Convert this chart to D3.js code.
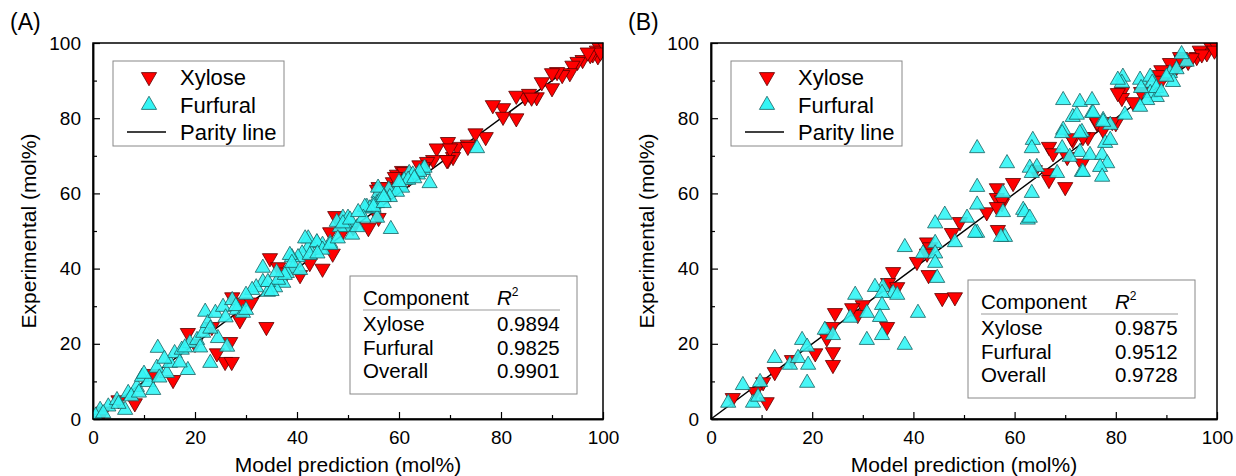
<!DOCTYPE html>
<html>
<head>
<meta charset="utf-8">
<script src="https://cdn.jsdelivr.net/npm/d3@7"></script>
<style>
  body { margin: 0; background: #fff; }
  svg text { font-family: "Liberation Sans", Arial, sans-serif; fill: #000; }
</style>
</head>
<body>
<div id="chart"></div>
<script>

//Tick values and table contents
var majorTicks = [0, 20, 40, 60, 80, 100];
var minorTicks = [10, 30, 50, 70, 90];
var tableComponents = ["Xylose", "Furfural", "Overall"];
var r2A = ["0.9894", "0.9825", "0.9901"];
var r2B = ["0.9875", "0.9512", "0.9728"];

//Panel A - [model prediction, experimental]
var xyloseA = [
  [99,99.5],[98.8,98],[99,96.5],[98,97],[97.5,96.8],[96,95.5],[95,95],[94,94],[93.5,92],[92,91.5],
  [91,92.3],[90,92],[90,88],[88,89.6],[87,85.6],[84.7,85.6],[83,86],[80.4,82.7],[78.4,83.5],[80.4,80.4],
  [83,80],[77,75],[75,76],[73.5,73],[71.4,72.4],[70.6,69.7],[69.6,73.7],[69.6,68.9],[67.4,72],[66.7,68.9],
  [65.5,68.4],[64.7,67],[64,67.5],[60.6,66],[59.6,65],[58.8,63],[56,61.7],[55.7,61],[47.5,54],[56,53.5],
  [54,50.8],[46.5,49.7],[34.7,42.8],[36.3,40.4],[45,40],[47,44],[42.5,41.5],[40.6,38.3],[34,24.5],[27.3,32.4],
  [29.2,31],[26.9,20.5],[25.9,15.2],[27.2,15.2],[24.3,17.5],[15.7,10.4],[8.2,4.2],[18.6,22.9],[23.3,24.5],[28.8,26.3],
  [70,72],[73.5,72.4],[69.4,68.9],[61,65.7],[59.2,64.4],[57.3,61.7],[100,100],[99.5,97.5],[97,97.5],[85.5,86.5],
  [86,85.5],[62,64],[49,50],[51,51],[38,39],[31,31],[20,20],[12,12],[5,5],[2,2]
];
var furfuralA = [
  [75.3,72],[66,62.7],[64.7,66.2],[63.7,65],[62,65.4],[61,63.5],[60,62],[58,61],[56,60],[55.7,57.4],
  [55,56],[53.7,56.4],[49,53.5],[50,53.5],[65,66.8],[64,65.7],[62.7,65],[61.8,63.6],[60.6,61.5],[59.6,60.4],
  [58.2,59],[56.9,59.6],[55.9,61.5],[55,57],[54.3,56],[53.3,56.4],[55.7,53.5],[58.4,50.5],[50.4,52.4],[49.8,51],
  [48.4,51],[50.8,49],[46.5,46.8],[45,46.3],[43.9,46.8],[42.2,48],[42.2,45.5],[41,44],[40.2,43],[39,43],
  [39.2,40],[38,38.8],[37.3,36.2],[35.7,35],[34.3,33.8],[33.3,36.4],[32,35],[1.4,2.4],[3,3.3],[4.7,5],
  [6.3,2.4],[6.9,6.9],[8.6,8.5],[9.6,11.2],[10.8,9.8],[11.8,7.7],[12.5,13.6],[12.7,18.9],[14.5,12.2],[15.1,14.9],
  [16,17.5],[17.4,18.4],[18.6,13],[19,20.2],[20.4,21],[21.6,22.9],[22,28.5],[22.5,25.5],[23,14.9],[24,28.2],
  [24.5,21.5],[25.5,29.8],[26.3,19.2],[27.3,31.6],[28.2,29],[29.4,28.2],[31.2,34.3],[33.3,40.2],[34.3,36.4],[36.3,37],
  [37.6,38.3],[38.6,43.6],[39,41.5],[40.6,39.6],[41.6,48],[42.5,43.6],[43.9,47],[45,45],[46.5,46.3],[47.8,52.4],
  [49,52],[50.4,53],[51.8,51],[53,53.5],[55,56.4],[57,57.4],[0.5,0.8],[2,1.5],[5,4],[7.5,6],
  [9,7],[10,12],[13,11],[14,16],[17,15],[18,19],[21,19],[23,24],[26,27],[28,30],
  [30,29],[30,33],[35,34],[36,39],[44,44],[48,48],[52,55],[57,59],[60,63],[63,64]
];

//Panel B - [model prediction, experimental]
var xyloseB = [
  [98.6,99.5],[98,97.3],[96.6,98],[96,96.3],[94.3,95],[92.7,96.3],[92,93.6],[90.7,94.7],[89,92.8],[88.7,91.5],
  [81.2,87],[81.2,85.4],[83.4,84.3],[80,78.7],[76.3,78.7],[77.5,76.9],[74.5,75],[71.5,74.2],[66.8,72.4],[67.6,70.7],
  [70.4,69.7],[70,61.7],[73.3,68],[66.4,65.4],[66.8,63.6],[64,66.2],[56.5,61.4],[59.7,62.8],[57.5,57.4],[56.5,58.8],
  [54.5,55],[49.2,52.4],[56.7,50.3],[71.3,74.7],[73.5,75],[76.3,79],[79.3,79],[80.4,86.7],[57.5,58.2],[56.5,56.4],
  [47.6,49.5],[42.7,47],[43.3,45.7],[42.7,44],[40.7,41.8],[43,38.3],[36,39.1],[35,36.2],[36.8,35.1],[45.7,32.2],
  [48.2,32.4],[34.8,24.5],[30,30.3],[29,27.7],[27.9,29.5],[24.5,28.2],[23.9,24.5],[24.1,17.8],[24.1,14.4],[22.9,21.5],
  [20.6,17.5],[16,15.7],[12.6,12.5],[10.3,9.8],[8.7,7.2],[11,4.5],[4.3,5.6],[100,99],[99.5,98],[97,97],
  [95,96],[93,95.5],[85,87],[89,90]
];
var furfuralB = [
  [81.4,91],[81.2,89.4],[84.8,90.2],[86.8,91],[87.2,89.4],[90.7,92],[91.3,89.6],[86.8,86.7],[88.1,85.6],[86.2,84.8],
  [84.8,83],[81.8,80.9],[69.6,84.8],[72.9,84.3],[75.3,84.8],[71.5,80.3],[75.3,81.4],[77.5,79.5],[78.9,78.2],[69.6,76.9],
  [69.4,76],[73.3,76.3],[63.6,74.2],[63.4,72],[52.6,72],[58.5,68],[69.4,72],[72.9,71],[74.9,70.2],[77.3,70.2],
  [77.9,73.4],[78.3,68],[76.9,67],[77.3,64.4],[73.3,65.7],[68.4,65.4],[64.4,67],[63,66.8],[63.4,65.4],[52.6,61.7],
  [63.4,60.1],[61.7,55.6],[62.6,53],[57.7,60.1],[52.6,57],[50.6,53.5],[46.2,54.3],[44.3,52],[52.6,49.5],[44.3,46.8],
  [38.3,45.7],[41.9,44],[44.3,44],[44.3,41.5],[44.7,37.5],[34,35.1],[36,33.5],[48.2,47],[57.7,55],[58.1,48.4],
  [62,55],[63,53.5],[72.3,80.9],[75.5,81.4],[72.9,76],[70.9,69.7],[73.5,65.7],[77.5,79],[78.9,74.2],[80.4,90.2],
  [3.4,4.3],[6.3,9],[8.3,4.3],[9.3,5.9],[9.7,9.8],[12.6,16.2],[15.6,14.4],[17.2,16.2],[18,21],[19,19.2],
  [19.2,14.4],[19,9.6],[22.5,23.7],[24.1,22.3],[27.5,26.9],[28.5,33],[30.8,28.2],[30.8,21],[32.4,35.1],[33.8,33.5],
  [33.8,30.3],[33.4,27.1],[33.8,22.3],[36.8,33],[38.3,19.7],[40.9,28.2],[52.2,49.5],[57.3,48.4],[85,88],[88,88],
  [90,91],[92,93],[94,95],[93,97],[89,87]
];

var svg = d3.select("#chart").append("svg")
    .attr("width", 1236)
    .attr("height", 476);

//Draw both panels
scatterPanel({ label: "(A)", left: 93, right: 603, xyl: xyloseA, fur: furfuralA, r2: r2A, tableTop: 276 });
scatterPanel({ label: "(B)", left: 711, right: 1217, xyl: xyloseB, fur: furfuralB, r2: r2B, tableTop: 280 });

/**
  * Draws one parity plot panel
  * @param {Object} p - label, plot left/right edge, data and table values
**/
function scatterPanel(p) {

  var top = 43, bottom = 419;

  var x = d3.scaleLinear().domain([0, 100]).range([p.left, p.right]);
  var y = d3.scaleLinear().domain([0, 100]).range([bottom, top]);

  var g = svg.append("g");

  //Clip markers to the frame
  var clipId = "clip" + p.label.replace(/[()]/g, "");
  g.append("clipPath").attr("id", clipId)
    .append("rect")
      .attr("x", p.left).attr("y", top)
      .attr("width", p.right - p.left).attr("height", bottom - top);

  //Bottom axis, ticks pointing inward
  g.append("g")
      .attr("transform", "translate(0," + bottom + ")")
      .call(d3.axisBottom(x).tickValues(majorTicks).tickSizeInner(-7).tickSizeOuter(0).tickPadding(12))
      .call(styleAxis);
  g.append("g")
      .attr("transform", "translate(0," + bottom + ")")
      .call(d3.axisBottom(x).tickValues(minorTicks).tickSizeInner(-4).tickSizeOuter(0).tickFormat(""))
      .call(styleAxis);

  //Left axis, ticks pointing inward
  g.append("g")
      .attr("transform", "translate(" + p.left + ",0)")
      .call(d3.axisLeft(y).tickValues(majorTicks).tickSizeInner(-7).tickSizeOuter(0).tickPadding(12))
      .call(styleAxis);
  g.append("g")
      .attr("transform", "translate(" + p.left + ",0)")
      .call(d3.axisLeft(y).tickValues(minorTicks).tickSizeInner(-4).tickSizeOuter(0).tickFormat(""))
      .call(styleAxis);

  //Parity line
  g.append("line")
      .attr("x1", x(0)).attr("y1", y(0))
      .attr("x2", x(100)).attr("y2", y(100))
      .attr("stroke", "#000").attr("stroke-width", 1.5);

  var tri = d3.symbol().type(d3.symbolTriangle).size(100);

  var marks = g.append("g").attr("clip-path", "url(#" + clipId + ")");

  marks.selectAll("path.xyl")
    .data(p.xyl)
    .enter().append("path")
      .attr("class", "xyl")
      .attr("d", tri)
      .attr("transform", function(d) { return "translate(" + x(d[0]) + "," + y(d[1]) + ") rotate(180)"; })
      .attr("fill", "#ff0000")
      .attr("stroke", "#5a0000")
      .attr("stroke-width", 0.8);

  marks.selectAll("path.fur")
    .data(p.fur)
    .enter().append("path")
      .attr("class", "fur")
      .attr("d", tri)
      .attr("transform", function(d) { return "translate(" + x(d[0]) + "," + y(d[1]) + ")"; })
      .attr("fill", "#33f5f5")
      .attr("fill-opacity", 0.9)
      .attr("stroke", "#1b5f5f")
      .attr("stroke-width", 0.8);

  //Frame
  g.append("rect")
      .attr("x", p.left).attr("y", top)
      .attr("width", p.right - p.left).attr("height", bottom - top)
      .attr("fill", "none").attr("stroke", "#000").attr("stroke-width", 1.5);

  //Panel label and axis titles
  g.append("text")
      .attr("x", p.left - 83).attr("y", 30)
      .style("font-size", "23px")
      .text(p.label);

  g.append("text")
      .attr("x", (p.left + p.right) / 2).attr("y", 472)
      .attr("text-anchor", "middle")
      .style("font-size", "21px")
      .text("Model prediction (mol%)");

  g.append("text")
      .attr("transform", "translate(" + (p.left - 57) + "," + ((top + bottom) / 2) + ") rotate(-90)")
      .attr("text-anchor", "middle")
      .style("font-size", "21px")
      .text("Experimental (mol%)");

  //Legend
  var lg = g.append("g").attr("transform", "translate(" + (p.left + 20) + ",61)");
  lg.append("rect")
      .attr("width", 171).attr("height", 85)
      .attr("fill", "#fff").attr("stroke", "#888").attr("stroke-width", 1);
  lg.append("path").attr("d", tri)
      .attr("transform", "translate(36,16) rotate(180)")
      .attr("fill", "#ff0000").attr("stroke", "#5a0000").attr("stroke-width", 0.8);
  lg.append("path").attr("d", tri)
      .attr("transform", "translate(36,44)")
      .attr("fill", "#33f5f5").attr("stroke", "#1b5f5f").attr("stroke-width", 0.8);
  lg.append("line")
      .attr("x1", 14).attr("x2", 53).attr("y1", 71).attr("y2", 71)
      .attr("stroke", "#000").attr("stroke-width", 1.5);
  var legendNames = ["Xylose", "Furfural", "Parity line"];
  lg.selectAll("text.lgd")
    .data(legendNames)
    .enter().append("text")
      .attr("class", "lgd")
      .attr("x", 67)
      .attr("y", function(d, i) { return 24 + i * 27.5; })
      .style("font-size", "22px")
      .text(function(d) { return d; });

  //R2 table
  var tb = g.append("g").attr("transform", "translate(" + (p.left + 257) + "," + p.tableTop + ")");
  tb.append("rect")
      .attr("width", 227).attr("height", 118)
      .attr("fill", "#fff").attr("stroke", "#888").attr("stroke-width", 1);
  tb.append("text")
      .attr("x", 13).attr("y", 29)
      .style("font-size", "20.5px")
      .text("Component");
  var rh = tb.append("text")
      .attr("x", 147).attr("y", 29)
      .style("font-size", "20.5px");
  rh.append("tspan").style("font-style", "italic").text("R");
  rh.append("tspan").attr("dy", -9).style("font-size", "12px").text("2");
  tb.append("line")
      .attr("x1", 13).attr("x2", 210).attr("y1", 34).attr("y2", 34)
      .attr("stroke", "#999").attr("stroke-width", 1.2);
  tb.selectAll("text.comp")
    .data(tableComponents)
    .enter().append("text")
      .attr("class", "comp")
      .attr("x", 13)
      .attr("y", function(d, i) { return 55 + i * 23.5; })
      .style("font-size", "20.5px")
      .text(function(d) { return d; });
  tb.selectAll("text.val")
    .data(p.r2)
    .enter().append("text")
      .attr("class", "val")
      .attr("x", 147)
      .attr("y", function(d, i) { return 55 + i * 23.5; })
      .style("font-size", "20.5px")
      .text(function(d) { return d; });
}

//Axis styling shared by all axes
function styleAxis(sel) {
  sel.select(".domain").attr("stroke", "#000").attr("stroke-width", 1.5);
  sel.selectAll(".tick line").attr("stroke", "#000").attr("stroke-width", 1.2);
  sel.selectAll(".tick text").style("font-size", "19px").attr("fill", "#000");
}
</script>
</body>
</html>
